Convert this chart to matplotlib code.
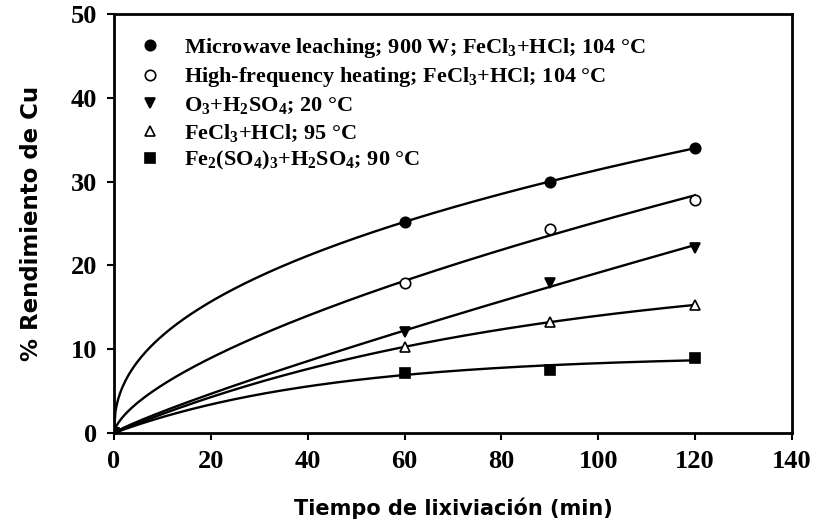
import numpy as np
import matplotlib
matplotlib.use("Agg")
import matplotlib.pyplot as plt

plt.rcParams['mathtext.fontset'] = 'custom'
plt.rcParams['mathtext.rm'] = 'Liberation Serif:bold'
plt.rcParams['mathtext.it'] = 'Liberation Serif:bold:italic'
plt.rcParams['mathtext.bf'] = 'Liberation Serif:bold'

time_min = [0, 60, 90, 120]
microwave = [0, 25.2, 30.0, 34.0]
high_freq = [0, 17.9, 24.4, 27.8]
ozone = [0, 12.1, 17.9, 22.1]
fecl3 = [0, 10.3, 13.2, 15.3]
fe2so4 = [0, 7.2, 7.5, 9.0]

labels = [
    "Microwave leaching; 900 W; FeCl$_3$+HCl; 104 °C",
    "High-frequency heating; FeCl$_3$+HCl; 104 °C",
    "O$_3$+H$_2$SO$_4$; 20 °C",
    "FeCl$_3$+HCl; 95 °C",
    "Fe$_2$(SO$_4$)$_3$+H$_2$SO$_4$; 90 °C",
]
series = [microwave, high_freq, ozone, fecl3, fe2so4]
markers = ['o', 'o', 'v', '^', 's']
facecolors = ['black', 'white', 'black', 'white', 'black']
fit_kind = ['power', 'power', 'power', 'exp', 'exp']

x_ticks = [0, 20, 40, 60, 80, 100, 120, 140]
y_ticks = [0, 10, 20, 30, 40, 50]


def fit_curve(t, y, kind, tt):
    t = np.asarray(t, float)
    y = np.asarray(y, float)
    m = t > 0
    if kind == 'power':
        b, loga = np.polyfit(np.log(t[m]), np.log(y[m]), 1)
        return np.exp(loga) * tt ** b
    best = None
    for k in np.linspace(0.001, 0.1, 2000):
        g = 1 - np.exp(-k * t)
        a = np.dot(g, y) / np.dot(g, g)
        err = np.sum((a * g - y) ** 2)
        if best is None or err < best[0]:
            best = (err, a, k)
    _, a, k = best
    return a * (1 - np.exp(-k * tt))


fig = plt.figure(figsize=(8.17, 5.27), dpi=100)
ax = fig.add_axes([0.1395, 0.1784, 0.8299, 0.795])

tt = np.linspace(0, 120, 400)
handles = []
for vals, mk, fc, kind, lab in zip(series, markers, facecolors, fit_kind, labels):
    ax.plot(tt, fit_curve(time_min, vals, kind, tt), color='black', lw=1.7, zorder=2)
    h, = ax.plot(time_min, vals, linestyle='none', marker=mk, markersize=7.5,
                 markerfacecolor=fc, markeredgecolor='black', markeredgewidth=1.2,
                 zorder=3, label=lab)
    handles.append(h)

ax.set_xlim(0, 140)
ax.set_ylim(0, 50)
ax.set_xticks(x_ticks)
ax.set_yticks(y_ticks)
for s in ax.spines.values():
    s.set_linewidth(2.0)
ax.tick_params(direction='out', length=5, width=1.5, top=False, right=False, pad=7)
for lbl in ax.get_xticklabels() + ax.get_yticklabels():
    lbl.set_fontfamily('Liberation Serif')
    lbl.set_fontweight('bold')
    lbl.set_fontsize(19)

ax.set_xlabel('Tiempo de lixiviación (min)', fontfamily='DejaVu Sans',
              fontweight='bold', fontsize=15, labelpad=18)
ax.set_ylabel('% Rendimiento de Cu', fontfamily='DejaVu Sans',
              fontweight='bold', fontsize=16.5, labelpad=20)

leg = ax.legend(handles=handles, loc='upper left', frameon=False,
                bbox_to_anchor=(0.015, 0.985), handlelength=0.9, handletextpad=1.1,
                labelspacing=0.25, borderaxespad=0.3,
                prop={'family': 'Liberation Serif', 'weight': 'bold', 'size': 16})

fig.savefig('out.png', dpi=100)
